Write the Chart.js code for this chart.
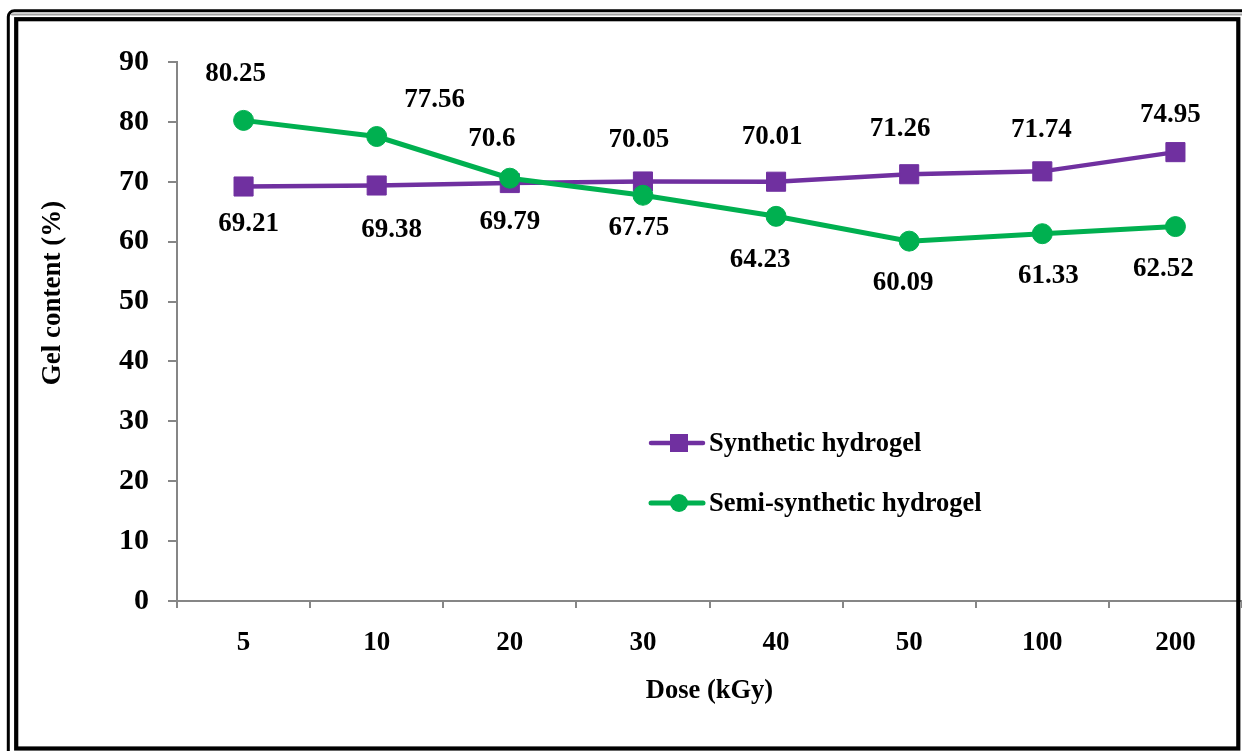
<!DOCTYPE html>
<html>
<head>
<meta charset="utf-8">
<script src="https://cdn.jsdelivr.net/npm/chart.js@4.4.1/dist/chart.umd.min.js"></script>
<style>
  html, body { margin: 0; padding: 0; background: #ffffff; }
  canvas { display: block; }
</style>
</head>
<body>
<canvas id="gelChart" width="1242" height="751"></canvas>
<script>
// Irradiation dose categories (kGy)
const doses = ['5', '10', '20', '30', '40', '50', '100', '200'];

// Gel content (%) for each hydrogel type
const syntheticGel = [69.21, 69.38, 69.79, 70.05, 70.01, 71.26, 71.74, 74.95];
const semiSyntheticGel = [80.25, 77.56, 70.6, 67.75, 64.23, 60.09, 61.33, 62.52];

// Value axis range
const yMin = 0;
const yMax = 90;
const yStep = 10;

// Where each value label sits relative to its point, in pixels [dx, dy]
const syntheticLabelShift = [[5, 38], [15, 45], [0, 39], [-4, -41], [-4, -45], [-9, -45], [-1, -41], [-5, -37]];
const semiLabelShift = [[-8, -46], [58, -36], [-18, -39], [-4, 33], [-16, 44], [-6, 42], [6, 42], [-12, 42]];

const FONT = "'Liberation Serif', 'Times New Roman', serif";
const AXIS_GREY = '#868686';
const PURPLE = '#7030A0';
const GREEN = '#00B050';

// Value labels next to every point
const valueLabels = {
  id: 'valueLabels',
  afterDatasetsDraw(chart) {
    const ctx = chart.ctx;
    const shifts = [syntheticLabelShift, semiLabelShift];
    ctx.save();
    ctx.font = `bold 27px ${FONT}`;
    ctx.fillStyle = '#000';
    ctx.textAlign = 'center';
    ctx.textBaseline = 'middle';
    chart.data.datasets.forEach((ds, di) => {
      const meta = chart.getDatasetMeta(di);
      meta.data.forEach((pt, i) => {
        const [dx, dy] = shifts[di][i];
        ctx.fillText(String(ds.data[i]), pt.x + dx, pt.y + dy);
      });
    });
    ctx.restore();
  }
};

// Legend inside the plot, y-axis title and the double frame round the figure
const decorations = {
  id: 'decorations',
  afterDraw(chart) {
    const ctx = chart.ctx;
    const area = chart.chartArea;
    ctx.save();

    // legend
    const lx0 = area.left + 474;
    const lx1 = lx0 + 52;
    const rowY = [area.top + 381, area.top + 441];
    chart.data.datasets.forEach((ds, i) => {
      const y = rowY[i];
      ctx.strokeStyle = ds.borderColor;
      ctx.lineWidth = ds.borderWidth;
      ctx.lineCap = 'round';
      ctx.beginPath();
      ctx.moveTo(lx0, y);
      ctx.lineTo(lx1, y);
      ctx.stroke();
      ctx.fillStyle = ds.borderColor;
      const cx = (lx0 + lx1) / 2 + 2;
      if (ds.pointStyle === 'rect') {
        ctx.fillRect(cx - 9, y - 9, 18, 18);
      } else {
        ctx.beginPath();
        ctx.arc(cx, y, 9, 0, Math.PI * 2);
        ctx.fill();
      }
      ctx.fillStyle = '#000';
      ctx.font = `bold 26.5px ${FONT}`;
      ctx.textAlign = 'left';
      ctx.textBaseline = 'middle';
      ctx.fillText(ds.label, lx1 + 6, y + 1);
    });

    // y-axis title
    ctx.save();
    ctx.translate(53, area.top + 231);
    ctx.rotate(-Math.PI / 2);
    ctx.font = `bold 27px ${FONT}`;
    ctx.fillStyle = '#000';
    ctx.textAlign = 'center';
    ctx.textBaseline = 'middle';
    ctx.fillText('Gel content (%)', 0, 0);
    ctx.restore();

    // outer frame (runs past the right and bottom edges)
    ctx.strokeStyle = '#000';
    ctx.lineWidth = 3;
    ctx.beginPath();
    ctx.roundRect(8.3, 10.7, 1260, 760, 6);
    ctx.stroke();
    ctx.strokeStyle = '#a0a0a0';
    ctx.lineWidth = 2;
    ctx.beginPath();
    ctx.moveTo(12, 14.6);
    ctx.lineTo(1242, 14.6);
    ctx.stroke();
    // inner frame
    ctx.strokeStyle = '#000';
    ctx.lineWidth = 4.2;
    ctx.strokeRect(16.2, 19.2, 1222.1, 729.3);

    ctx.restore();
  }
};

new Chart(document.getElementById('gelChart'), {
  type: 'line',
  data: {
    labels: doses,
    datasets: [
      {
        label: 'Synthetic hydrogel',
        data: syntheticGel,
        borderColor: PURPLE,
        backgroundColor: PURPLE,
        borderWidth: 4.5,
        pointStyle: 'rect',
        pointRadius: 13.5,
        pointBorderWidth: 1,
        pointBackgroundColor: PURPLE,
        pointBorderColor: PURPLE,
        tension: 0,
        order: 1
      },
      {
        label: 'Semi-synthetic hydrogel',
        data: semiSyntheticGel,
        borderColor: GREEN,
        backgroundColor: GREEN,
        borderWidth: 5,
        pointStyle: 'circle',
        pointRadius: 10,
        pointBorderWidth: 1,
        pointBackgroundColor: GREEN,
        pointBorderColor: GREEN,
        tension: 0,
        order: 0
      }
    ]
  },
  options: {
    responsive: false,
    animation: false,
    devicePixelRatio: 1,
    layout: { autoPadding: false, padding: { left: 0, right: 0, top: 62, bottom: 0 } },
    plugins: {
      legend: { display: false },
      tooltip: { enabled: false }
    },
    scales: {
      x: {
        offset: true,
        grid: {
          offset: true,
          drawOnChartArea: false,
          drawTicks: true,
          tickLength: 7,
          color: AXIS_GREY,
          lineWidth: 2
        },
        border: { color: AXIS_GREY, width: 2 },
        ticks: {
          color: '#000',
          font: { family: FONT, size: 27, weight: 'bold' },
          padding: 19,
          maxRotation: 0,
          autoSkip: false
        },
        title: {
          display: true,
          text: 'Dose (kGy)',
          color: '#000',
          font: { family: FONT, size: 26.5, weight: 'bold' },
          padding: { top: 0, bottom: 44 }
        },
        afterFit(scale) {
          scale.height = 150;
          scale.paddingLeft = 0;
          scale.paddingRight = 0;
        }
      },
      y: {
        min: yMin,
        max: yMax,
        grid: {
          drawOnChartArea: false,
          drawTicks: true,
          tickLength: 9,
          color: AXIS_GREY,
          lineWidth: 2
        },
        border: { color: AXIS_GREY, width: 2 },
        ticks: {
          stepSize: yStep,
          color: '#000',
          font: { family: FONT, size: 30, weight: 'bold' },
          padding: 19
        },
        afterFit(scale) { scale.width = 177; }
      }
    }
  },
  plugins: [valueLabels, decorations]
});
</script>
</body>
</html>
